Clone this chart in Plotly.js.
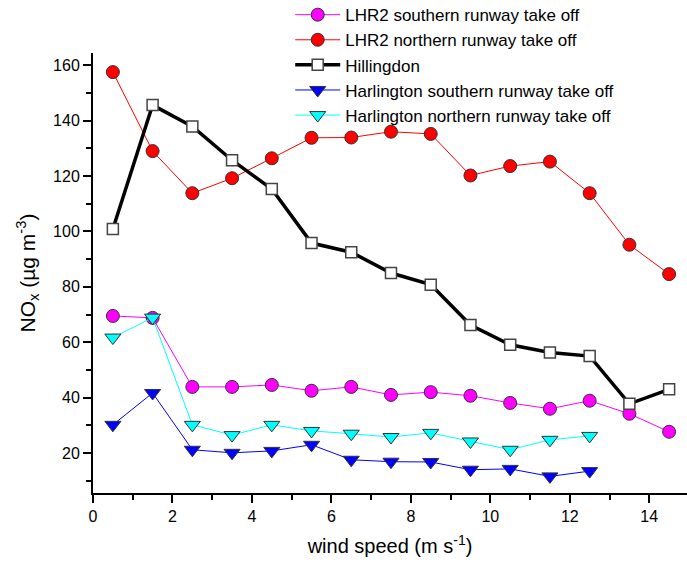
<!DOCTYPE html>
<html>
<head>
<meta charset="utf-8">
<script src="https://cdn.plot.ly/plotly-3.0.1.min.js"></script>
<style>html,body{margin:0;padding:0;background:#fff;}#chart{width:687px;height:570px;}</style>
</head>
<body>
<div id="chart"></div>
<script>
const windSpeed = [0.5,1.5,2.5,3.5,4.5,5.5,6.5,7.5,8.5,9.5,10.5,11.5,12.5,13.5,14.5];
const windSpeedHarl = [0.5,1.5,2.5,3.5,4.5,5.5,6.5,7.5,8.5,9.5,10.5,11.5,12.5];
const lhr2South = [69.5,68.8,43.9,43.9,44.6,42.5,43.9,41.0,42.0,40.7,38.1,36.0,38.9,34.2,27.7];
const lhr2North = [157.5,129.0,113.8,119.2,126.4,133.8,133.9,136.0,135.2,120.2,123.6,125.2,113.8,95.2,84.6];
const hillingdon = [100.9,145.6,137.9,125.7,115.3,95.8,92.5,85.0,80.8,66.2,59.1,56.3,55.0,37.8,43.0];
const harlSouth = [30.2,41.7,21.2,20.1,20.8,23.0,17.6,16.9,16.8,14.0,14.3,11.6,13.5];
const harlNorth = [61.7,68.9,30.2,26.5,30.2,28.0,27.0,25.8,27.3,24.2,21.2,24.8,26.2];
const names = ["LHR2 southern runway take off","LHR2 northern runway take off","Hillingdon","Harlington southern runway take off","Harlington northern runway take off"];

const edge = {color:'#333', width:1};
const traces = [
  {x:windSpeed, y:lhr2South, name:names[0], mode:'lines+markers',
   line:{color:'#ff00ff', width:1}, marker:{symbol:'circle', size:13, color:'#ff00ff', line:edge}},
  {x:windSpeed, y:lhr2North, name:names[1], mode:'lines+markers',
   line:{color:'#ff0000', width:1}, marker:{symbol:'circle', size:13, color:'#ff0000', line:edge}},
  {x:windSpeed, y:hillingdon, name:names[2], mode:'lines+markers',
   line:{color:'#000000', width:3.5}, marker:{symbol:'square', size:11, color:'#ffffff', line:{color:'#444', width:1.5}}},
  {x:windSpeedHarl, y:harlSouth, name:names[3], mode:'lines+markers',
   line:{color:'#0000ff', width:1}, marker:{symbol:'triangle-down', size:14, color:'#0000ff', line:edge}},
  {x:windSpeedHarl, y:harlNorth, name:names[4], mode:'lines+markers',
   line:{color:'#00ffff', width:1}, marker:{symbol:'triangle-down', size:14, color:'#00ffff', line:edge}}
];

const font = "Liberation Sans, Arial, Helvetica, sans-serif";
const layout = {
  width:687, height:570,
  margin:{l:93, r:0, t:53, b:77, autoexpand:false},
  paper_bgcolor:'#fff', plot_bgcolor:'#fff',
  font:{family:font, size:16, color:'#000'},
  showlegend:true,
  legend:{x:0.332, y:1.127, xanchor:'left', yanchor:'top', bgcolor:'rgba(0,0,0,0)',
          font:{family:font, size:17, color:'#000'}, tracegroupgap:0, itemwidth:45},
  xaxis:{range:[0,14.95], showgrid:false, zeroline:false, showline:true, linecolor:'#000', linewidth:2,
         ticks:'outside', ticklen:8, tickwidth:2, tickcolor:'#000', tick0:0, dtick:2,
         minor:{ticks:'outside', ticklen:5, tickwidth:2, tickcolor:'#000', dtick:1},
         tickfont:{size:16}, title:{text:'wind speed (m s<sup>-1</sup>)', font:{size:20}, standoff:15}},
  yaxis:{range:[5.6,164.4], showgrid:false, zeroline:false, showline:true, linecolor:'#000', linewidth:2,
         ticks:'outside', ticklen:8, tickwidth:2, tickcolor:'#000', tick0:0, dtick:20,
         minor:{ticks:'outside', ticklen:5, tickwidth:2, tickcolor:'#000', dtick:10},
         tickfont:{size:16}, title:{text:'NO<sub>x</sub> (µg m<sup>-3</sup>)', font:{size:21}, standoff:12}}
};
Plotly.newPlot('chart', traces, layout, {displayModeBar:false, staticPlot:true});
</script>
</body>
</html>
